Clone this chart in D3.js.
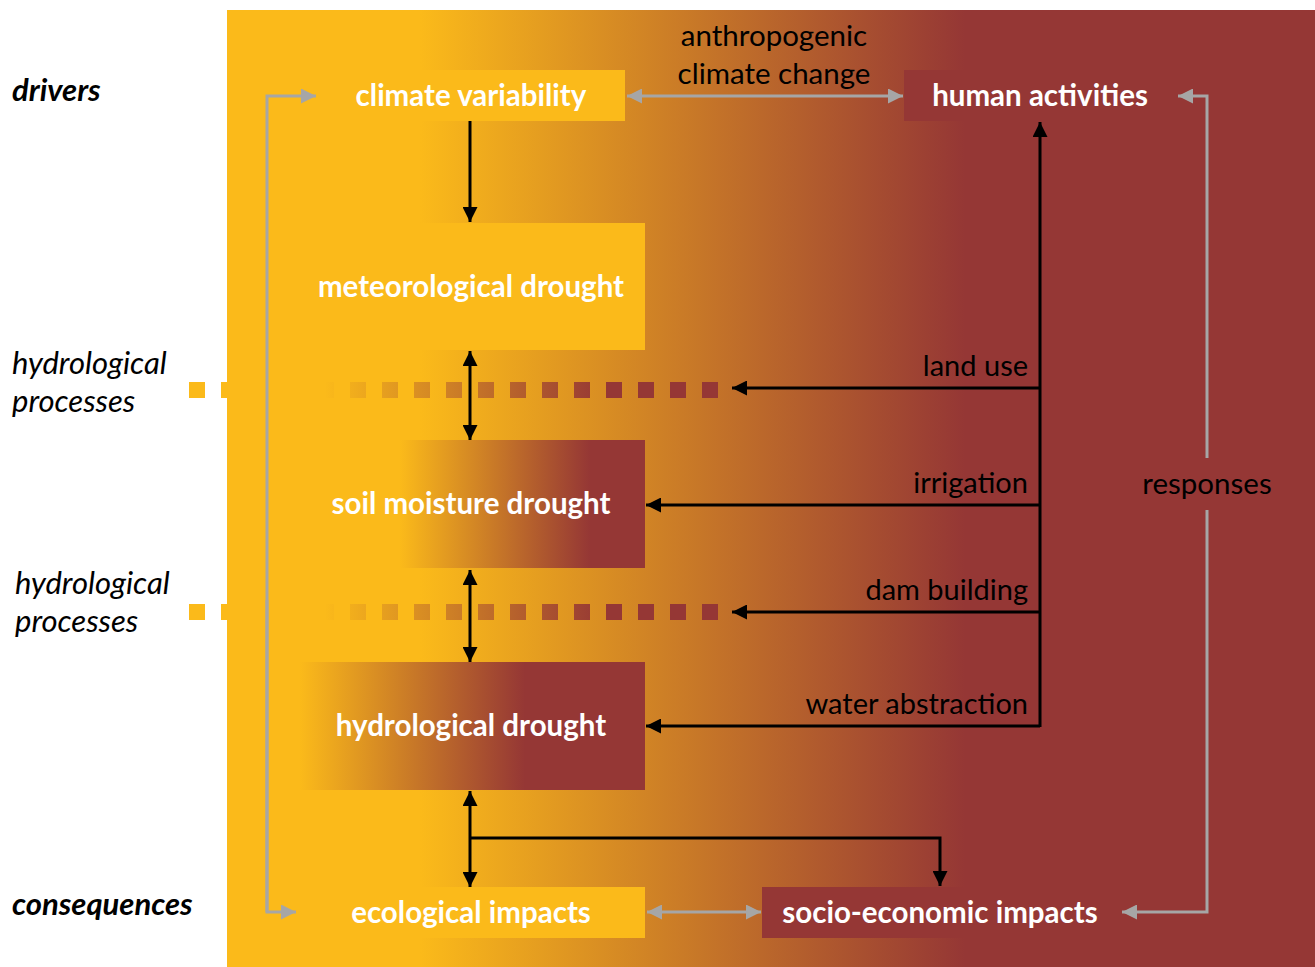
<!DOCTYPE html>
<html>
<head>
<meta charset="utf-8">
<script src="https://cdn.jsdelivr.net/npm/d3@7"></script>
<style>
  body { margin: 0; background: #fff; }
  text { font-family: Lato, "Open Sans", sans-serif; }
</style>
</head>
<body>
<div id="diagram"></div>
<script>
// names of the boxes, arrows and side labels
var droughtStages = ["meteorological drought", "soil moisture drought", "hydrological drought"];
var drivers = ["climate variability", "human activities"];
var consequences = ["ecological impacts", "socio-economic impacts"];
var humanInfluences = ["land use", "irrigation", "dam building", "water abstraction"];
var influenceTargets = ["dots1", "soil moisture drought", "dots2", "hydrological drought"];
var rowLabels = ["drivers", "hydrological\nprocesses", "hydrological\nprocesses", "consequences"];
var linkLabels = ["anthropogenic\nclimate change", "responses"];

var width = 1315, height = 967;
var yellow = "#FBBA1A", red = "#953735", grey = "#A6A6A6";

var svg = d3.select("#diagram")
    .append("svg")
    .attr("width", width)
    .attr("height", height);

var defs = svg.append("defs");

// horizontal gradients (userSpaceOnUse so they follow the page x)
function gradient(id, x1, x2) {
  var g = defs.append("linearGradient")
    .attr("id", id)
    .attr("gradientUnits", "userSpaceOnUse")
    .attr("x1", x1).attr("x2", x2).attr("y1", 0).attr("y2", 0);
  g.append("stop").attr("offset", 0).attr("stop-color", yellow);
  g.append("stop").attr("offset", 1).attr("stop-color", red);
}
gradient("bgGrad", 420, 965);
gradient("soilGrad", 400, 590);
gradient("hydroGrad", 300, 525);
gradient("dotGrad", 325, 605);

// arrow markers
function marker(id, color) {
  defs.append("marker")
    .attr("id", id)
    .attr("viewBox", "0 0 10 10")
    .attr("refX", 10).attr("refY", 5)
    .attr("markerUnits", "userSpaceOnUse")
    .attr("markerWidth", 16).attr("markerHeight", 15)
    .attr("orient", "auto-start-reverse")
    .append("path")
    .attr("d", "M0,0 L10,5 L0,10 Z")
    .attr("fill", color);
}
marker("arrBlack", "#000");
marker("arrGrey", grey);

// background panel
svg.append("rect")
  .attr("x", 227).attr("y", 10)
  .attr("width", 1088).attr("height", 957)
  .attr("fill", "url(#bgGrad)");

// box positions
var boxPos = {
  "climate variability":   {x: 317, y: 70,  w: 308, h: 51, fill: yellow},
  "human activities":      {x: 904, y: 70,  w: 272, h: 51, fill: red},
  "meteorological drought":{x: 297, y: 223, w: 348, h: 127, fill: yellow},
  "soil moisture drought": {x: 297, y: 440, w: 348, h: 128, fill: "url(#soilGrad)"},
  "hydrological drought":  {x: 297, y: 662, w: 348, h: 128, fill: "url(#hydroGrad)"},
  "ecological impacts":    {x: 297, y: 887, w: 348, h: 51, fill: yellow},
  "socio-economic impacts":{x: 762, y: 887, w: 356, h: 51, fill: red}
};
var boxNames = drivers.concat(droughtStages, consequences);

var boxes = svg.append("g").selectAll("g")
  .data(boxNames)
  .enter()
  .append("g");

boxes.append("rect")
  .attr("x", function(d) { return boxPos[d].x; })
  .attr("y", function(d) { return boxPos[d].y; })
  .attr("width", function(d) { return boxPos[d].w; })
  .attr("height", function(d) { return boxPos[d].h; })
  .attr("fill", function(d) { return boxPos[d].fill; });

boxes.append("text")
  .attr("x", function(d) { return boxPos[d].x + boxPos[d].w / 2; })
  .attr("y", function(d) { return boxPos[d].y + boxPos[d].h / 2; })
  .attr("dy", "0.35em")
  .attr("text-anchor", "middle")
  .attr("font-size", "29.5px")
  .attr("font-weight", "bold")
  .attr("fill", "white")
  .text(function(d) { return d; });

// dotted hydrological process rows
var dotRows = {dots1: {y: 390}, dots2: {y: 612}};
var dotGroup = svg.append("g");
Object.keys(dotRows).forEach(function(k) {
  var r = dotRows[k];
  dotGroup.append("line")
    .attr("x1", 318).attr("x2", 718)
    .attr("y1", r.y).attr("y2", r.y)
    .attr("stroke", "url(#dotGrad)")
    .attr("stroke-width", 16)
    .attr("stroke-dasharray", "16,16");
  // left squares outside the panel
  dotGroup.append("rect")
    .attr("x", 189).attr("y", r.y - 8)
    .attr("width", 16).attr("height", 16)
    .attr("fill", yellow);
  dotGroup.append("rect")
    .attr("x", 221).attr("y", r.y - 8)
    .attr("width", 6).attr("height", 16)
    .attr("fill", yellow);
});

// black arrows
var black = svg.append("g")
  .attr("stroke", "#000")
  .attr("stroke-width", 3)
  .attr("fill", "none");

function arrow(g, pts, start, end, id) {
  g.append("path")
    .attr("d", d3.line()(pts))
    .attr("marker-start", start ? "url(#" + id + ")" : null)
    .attr("marker-end", end ? "url(#" + id + ")" : null);
}

arrow(black, [[470, 121], [470, 222]], false, true, "arrBlack");
arrow(black, [[470, 351], [470, 440]], true, true, "arrBlack");
arrow(black, [[470, 570], [470, 662]], true, true, "arrBlack");
arrow(black, [[470, 791], [470, 887]], true, true, "arrBlack");
arrow(black, [[470, 838], [940, 838], [940, 886]], false, true, "arrBlack");
arrow(black, [[1040, 727], [1040, 122]], false, true, "arrBlack");

var influenceY = [388, 505, 612, 726];
var influenceTip = {dots1: 732, dots2: 732, "soil moisture drought": 646, "hydrological drought": 646};

humanInfluences.forEach(function(name, i) {
  var y = influenceY[i];
  arrow(black, [[1040, y], [influenceTip[influenceTargets[i]], y]], false, true, "arrBlack");
  svg.append("text")
    .attr("x", 1028)
    .attr("y", y - 22)
    .attr("dy", "0.35em")
    .attr("text-anchor", "end")
    .attr("font-size", "29px")
    .attr("fill", "#000")
    .text(name);
});

// grey arrows
var greyG = svg.append("g")
  .attr("stroke", grey)
  .attr("stroke-width", 3)
  .attr("fill", "none");

arrow(greyG, [[627, 96], [903, 96]], true, true, "arrGrey");
arrow(greyG, [[647, 912], [761, 912]], true, true, "arrGrey");
arrow(greyG, [[267, 912], [267, 96], [316, 96]], false, true, "arrGrey");
arrow(greyG, [[267, 600], [267, 912], [296, 912]], false, true, "arrGrey");
arrow(greyG, [[1207, 458], [1207, 96], [1178, 96]], false, true, "arrGrey");
arrow(greyG, [[1207, 510], [1207, 912], [1122, 912]], false, true, "arrGrey");

// link labels
var anthro = svg.append("text")
  .attr("x", 774)
  .attr("y", 46)
  .attr("text-anchor", "middle")
  .attr("font-size", "29.5px")
  .attr("fill", "#000");
linkLabels[0].split("\n").forEach(function(t, i) {
  anthro.append("tspan").attr("x", 774).attr("dy", i ? 38 : 0).text(t);
});

svg.append("text")
  .attr("x", 1207)
  .attr("y", 484)
  .attr("dy", "0.35em")
  .attr("text-anchor", "middle")
  .attr("font-size", "29.5px")
  .attr("fill", "#000")
  .text(linkLabels[1]);

// row labels on the left
var rowPos = [{x: 12, y: 101}, {x: 12, y: 374}, {x: 15, y: 594}, {x: 12, y: 915}];
rowLabels.forEach(function(lbl, i) {
  var t = svg.append("text")
    .attr("x", rowPos[i].x)
    .attr("y", rowPos[i].y)
    .attr("font-size", "31px")
    .attr("font-style", "italic")
    .attr("font-weight", lbl.indexOf("\n") < 0 ? "bold" : "normal")
    .attr("fill", "#000");
  lbl.split("\n").forEach(function(s, j) {
    t.append("tspan").attr("x", rowPos[i].x).attr("dy", j ? 38 : 0).text(s);
  });
});
</script>
</body>
</html>
